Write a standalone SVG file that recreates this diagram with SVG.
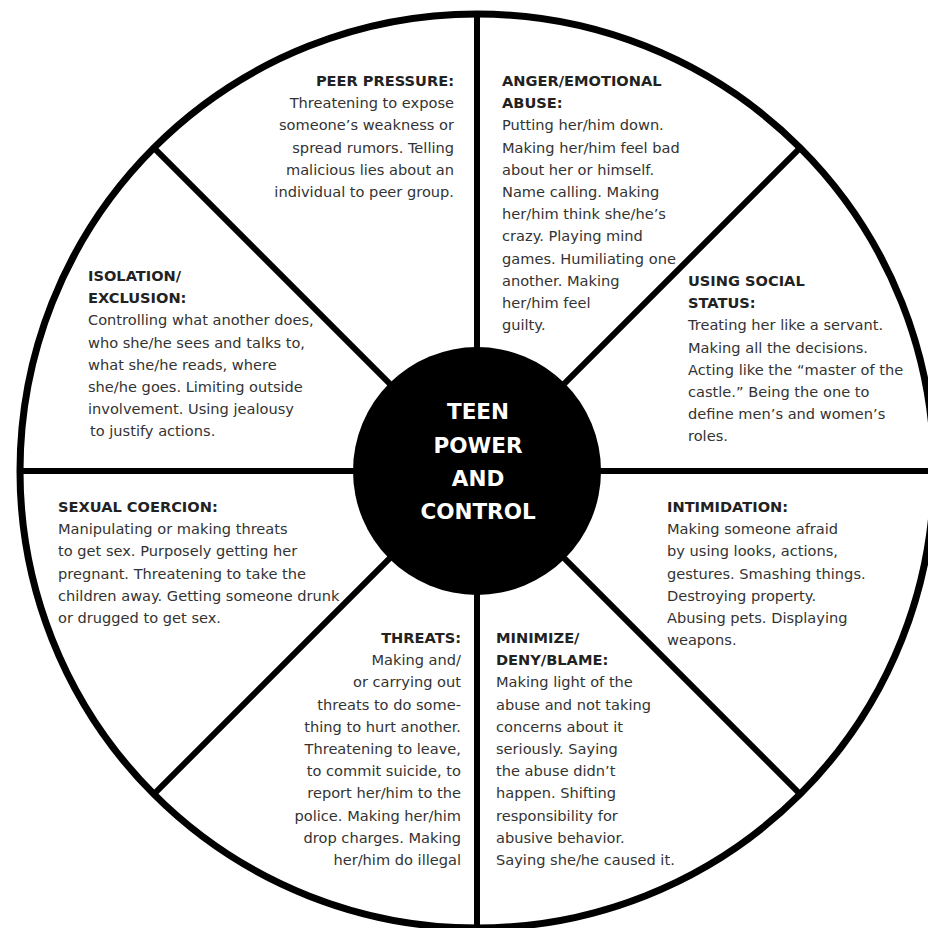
<svg xmlns="http://www.w3.org/2000/svg" width="928" height="928" viewBox="0 0 928 928">
<style>
.t{font-family:"DejaVu Sans","Liberation Sans",sans-serif;font-size:14.6px;fill:#333}
.h{font-weight:bold;fill:#222}
.e{text-anchor:end}
.c{font-family:"DejaVu Sans","Liberation Sans",sans-serif;font-size:21.5px;font-weight:bold;fill:#fff;text-anchor:middle}
.sp{stroke:#000;stroke-width:6;fill:none}
</style>
<rect width="928" height="928" fill="#fff"/>
<g id="connectors">
<line class="sp" x1="477" y1="14" x2="477" y2="928"/>
<line class="sp" x1="20" y1="471" x2="934" y2="471"/>
<line class="sp" x1="153.9" y1="147.9" x2="800.1" y2="794.1"/>
<line class="sp" x1="800.1" y1="147.9" x2="153.9" y2="794.1"/>
</g>
<g id="wheel">
<circle cx="477" cy="471" r="457" fill="none" stroke="#000" stroke-width="7"/>
</g>
<g id="center">
<circle cx="477" cy="471" r="124" fill="#000"/>
<text class="c" x="478" y="419">TEEN</text>
<text class="c" x="478" y="452.5">POWER</text>
<text class="c" x="478" y="486">AND</text>
<text class="c" x="478" y="519">CONTROL</text>
</g>
<g id="peer-pressure">
<text class="t e" x="454" y="86"><tspan class="h">PEER PRESSURE:</tspan><tspan x="454" dy="22.2">Threatening to expose</tspan><tspan x="454" dy="22.2">someone’s weakness or</tspan><tspan x="454" dy="22.2">spread rumors. Telling</tspan><tspan x="454" dy="22.2">malicious lies about an</tspan><tspan x="454" dy="22.2">individual to peer group.</tspan></text>
</g>
<g id="anger">
<text class="t" x="502" y="86"><tspan class="h">ANGER/EMOTIONAL</tspan><tspan class="h" x="502" dy="22.2">ABUSE:</tspan><tspan x="502" dy="22.2">Putting her/him down.</tspan><tspan x="502" dy="22.2">Making her/him feel bad</tspan><tspan x="502" dy="22.2">about her or himself.</tspan><tspan x="502" dy="22.2">Name calling. Making</tspan><tspan x="502" dy="22.2">her/him think she/he’s</tspan><tspan x="502" dy="22.2">crazy. Playing mind</tspan><tspan x="502" dy="22.2">games. Humiliating one</tspan><tspan x="502" dy="22.2">another. Making</tspan><tspan x="502" dy="22.2">her/him feel</tspan><tspan x="502" dy="22.2">guilty.</tspan></text>
</g>
<g id="social-status">
<text class="t" x="688" y="286"><tspan class="h">USING SOCIAL</tspan><tspan class="h" x="688" dy="22.2">STATUS:</tspan><tspan x="688" dy="22.2">Treating her like a servant.</tspan><tspan x="688" dy="22.2">Making all the decisions.</tspan><tspan x="688" dy="22.2">Acting like the “master of the</tspan><tspan x="688" dy="22.2">castle.” Being the one to</tspan><tspan x="688" dy="22.2">define men’s and women’s</tspan><tspan x="688" dy="22.2">roles.</tspan></text>
</g>
<g id="isolation">
<text class="t" x="88" y="281"><tspan class="h">ISOLATION/</tspan><tspan class="h" x="88" dy="22.2">EXCLUSION:</tspan><tspan x="88" dy="22.2">Controlling what another does,</tspan><tspan x="88" dy="22.2">who she/he sees and talks to,</tspan><tspan x="88" dy="22.2">what she/he reads, where</tspan><tspan x="88" dy="22.2">she/he goes. Limiting outside</tspan><tspan x="88" dy="22.2">involvement. Using jealousy</tspan><tspan x="90" dy="22.2">to justify actions.</tspan></text>
</g>
<g id="sexual-coercion">
<text class="t" x="58" y="512"><tspan class="h">SEXUAL COERCION:</tspan><tspan x="58" dy="22.2">Manipulating or making threats</tspan><tspan x="58" dy="22.2">to get sex. Purposely getting her</tspan><tspan x="58" dy="22.2">pregnant. Threatening to take the</tspan><tspan x="58" dy="22.2">children away. Getting someone drunk</tspan><tspan x="58" dy="22.2">or drugged to get sex.</tspan></text>
</g>
<g id="intimidation">
<text class="t" x="667" y="512"><tspan class="h">INTIMIDATION:</tspan><tspan x="667" dy="22.2">Making someone afraid</tspan><tspan x="667" dy="22.2">by using looks, actions,</tspan><tspan x="667" dy="22.2">gestures. Smashing things.</tspan><tspan x="667" dy="22.2">Destroying property.</tspan><tspan x="667" dy="22.2">Abusing pets. Displaying</tspan><tspan x="667" dy="22.2">weapons.</tspan></text>
</g>
<g id="threats">
<text class="t e" x="461" y="643"><tspan class="h">THREATS:</tspan><tspan x="461" dy="22.2">Making and/</tspan><tspan x="461" dy="22.2">or carrying out</tspan><tspan x="461" dy="22.2">threats to do some-</tspan><tspan x="461" dy="22.2">thing to hurt another.</tspan><tspan x="461" dy="22.2">Threatening to leave,</tspan><tspan x="461" dy="22.2">to commit suicide, to</tspan><tspan x="461" dy="22.2">report her/him to the</tspan><tspan x="461" dy="22.2">police. Making her/him</tspan><tspan x="461" dy="22.2">drop charges. Making</tspan><tspan x="461" dy="22.2">her/him do illegal</tspan></text>
</g>
<g id="minimize">
<text class="t" x="496" y="643"><tspan class="h">MINIMIZE/</tspan><tspan class="h" x="496" dy="22.2">DENY/BLAME:</tspan><tspan x="496" dy="22.2">Making light of the</tspan><tspan x="496" dy="22.2">abuse and not taking</tspan><tspan x="496" dy="22.2">concerns about it</tspan><tspan x="496" dy="22.2">seriously. Saying</tspan><tspan x="496" dy="22.2">the abuse didn’t</tspan><tspan x="496" dy="22.2">happen. Shifting</tspan><tspan x="496" dy="22.2">responsibility for</tspan><tspan x="496" dy="22.2">abusive behavior.</tspan><tspan x="496" dy="22.2">Saying she/he caused it.</tspan></text>
</g>
</svg>
